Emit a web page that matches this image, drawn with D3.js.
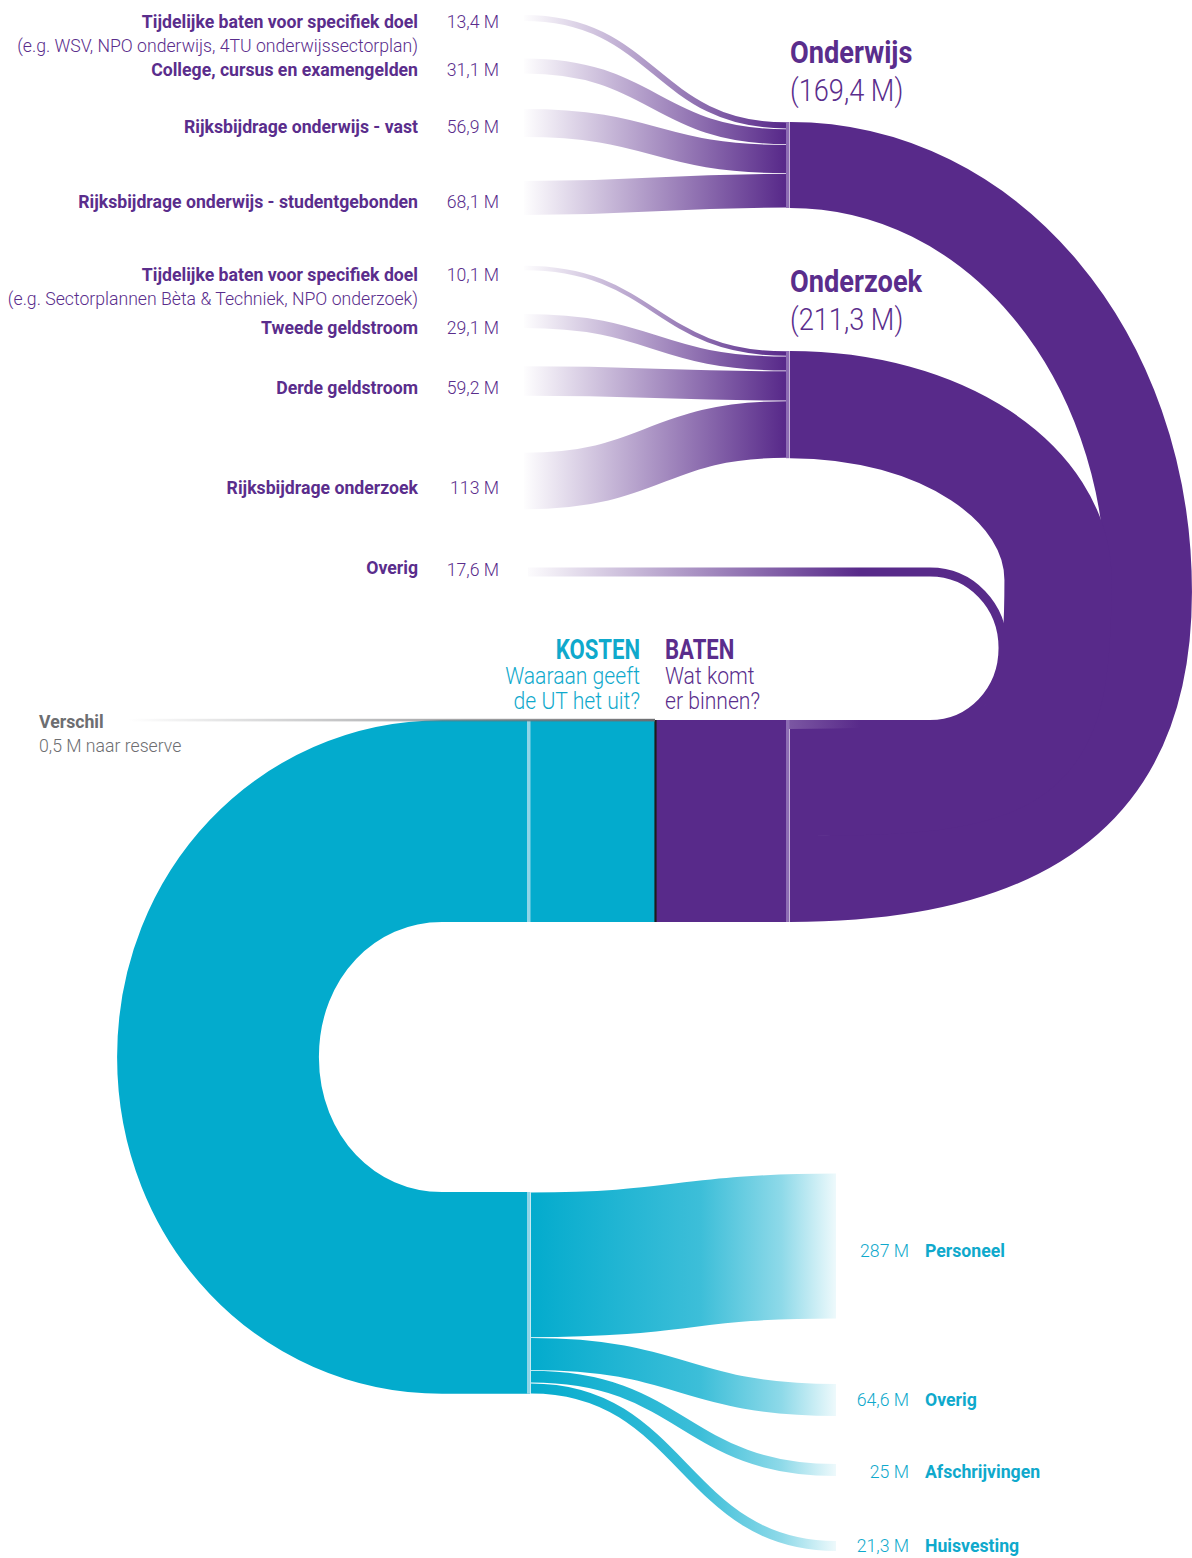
<!DOCTYPE html>
<html><head><meta charset="utf-8">
<script src="https://cdn.jsdelivr.net/npm/d3@7"></script>
<style>
html,body{margin:0;padding:0;background:#fff;}
svg{display:block;}
text{font-family:Roboto,'Liberation Sans',sans-serif;}
</style></head><body>
<svg id="chart" width="1192" height="1558"></svg>
<script>
// ---------- DATA ----------
const onderwijsLabels = ["Tijdelijke baten voor specifiek doel","College, cursus en examengelden","Rijksbijdrage onderwijs - vast","Rijksbijdrage onderwijs - studentgebonden"];
const onderwijsNotes = ["(e.g. WSV, NPO onderwijs, 4TU onderwijssectorplan)","","",""];
const onderwijsValues = [13.4, 31.1, 56.9, 68.1];
const onderzoekLabels = ["Tijdelijke baten voor specifiek doel","Tweede geldstroom","Derde geldstroom","Rijksbijdrage onderzoek"];
const onderzoekNotes = ["(e.g. Sectorplannen Bèta & Techniek, NPO onderzoek)","","",""];
const onderzoekValues = [10.1, 29.1, 59.2, 113];
const groupLabels = ["Onderwijs","Onderzoek","Overig"];
const groupValues = [169.4, 211.3, 17.6];
const kostenLabels = ["Personeel","Overig","Afschrijvingen","Huisvesting"];
const kostenValues = [287, 64.6, 25, 21.3];
const verschilLabel = "Verschil";
const verschilValue = 0.5;

// ---------- LAYOUT (positions, not data) ----------
const srcCenters = [[18,66,123,198],[268,321,381,481]];
const labelOffset = [10, 13];
const overigSrcY = 572;
const groupNodeTop = [122, 351];
const kostenTargetCenters = [1246, 1400, 1470, 1546];
const kostenLabelY = [1257, 1406, 1478, 1552];
const xSrc = 524, xNode = 786, xLoop = 790;
const xKostNode = 528, xKostOutEnd = 836;
const batenTop = 720;
const uBottomTop = 1192;

const PURPLE = "#582a8a", PURPLE_TXT = "#5a2d8c", PURPLE_LINE = "#8d6db4";
const CYAN = "#03abcd", CYAN_TXT = "#0fa9cc", CYAN_LINE = "#8fd5e7";
const GRAY = "#6d6e71";
const SX = 0.93;

const fmt = v => String(v).replace(".", ",") + " M";

const svg = d3.select("#chart");
const totalBaten = d3.sum(groupValues);
const totalKosten = d3.sum(kostenValues);
const w = d3.scaleLinear().domain([0, totalBaten]).range([0, 202]);

// gradients
const defs = svg.append("defs");
function grad(id, x1, x2, color, stops) {
  const g = defs.append("linearGradient").attr("id", id).attr("gradientUnits","userSpaceOnUse")
    .attr("x1", x1).attr("x2", x2).attr("y1", 0).attr("y2", 0);
  stops.forEach(([off, op]) => g.append("stop").attr("offset", off).attr("stop-color", color).attr("stop-opacity", op));
}
grad("gIn", 522, 784, PURPLE, [[0,0],[1,1]]);
grad("gOverig", 522, 860, PURPLE, [[0,0],[1,1]]);
grad("gOut", 531, 840, CYAN, [[0,1],[0.55,0.77],[0.81,0.45],[1,0.04]]);
grad("gVer", 128, 655, GRAY, [[0,0],[1,1]]);

function ctext(x, y, str, o) {
  return svg.append("text")
    .attr("transform", `translate(${x},${y}) scale(${o.sx || SX},1)`)
    .attr("text-anchor", o.anchor || "start")
    .attr("font-size", o.size).attr("font-weight", o.weight)
    .attr("fill", o.fill).text(str);
}

function loopRight(p, x0, y0, x1, y1, xr, ym, kT, kB) {
  p.bezierCurveTo(x0 + kT*(xr-x0), y0, xr, ym - kT*(ym-y0), xr, ym);
  p.bezierCurveTo(xr, ym + kB*(y1-ym), x1 + kB*(xr-x1), y1, x1, y1);
}

const link = d3.linkHorizontal();

// ---------- BIG LOOPS (baten) ----------
const slotOverig = batenTop;
const slotOnderzoek = batenTop + w(groupValues[2]);
const slotOnderwijs = slotOnderzoek + w(groupValues[1]);
const loops = [
  {v: groupValues[0], ys: groupNodeTop[0] + w(groupValues[0])/2, ye: slotOnderwijs + w(groupValues[0])/2, xr: 1149, ym: 592, kT: 0.56, kB: 0.68},
  {v: groupValues[1], ys: groupNodeTop[1] + w(groupValues[1])/2, ye: slotOnderzoek + w(groupValues[1])/2, xr: 1058, ym: 580, kT: 0.56, kB: 0.9}
];
loops.forEach(d => {
  const p = d3.path();
  p.moveTo(xLoop, d.ys);
  loopRight(p, xLoop, d.ys, xLoop, d.ye, d.xr, d.ym, d.kT, d.kB);
  svg.append("path").attr("d", p.toString()).attr("fill","none")
    .attr("stroke", PURPLE).attr("stroke-width", w(d.v));
});
// Overig loop
{
  const wv = w(groupValues[2]);
  const ye = slotOverig + wv/2;
  const p = d3.path();
  p.moveTo(xSrc + 4, overigSrcY);
  p.lineTo(930, overigSrcY);
  loopRight(p, 930, overigSrcY, 930, ye, 1003, 648, 0.56, 0.56);
  p.lineTo(xLoop - 2, ye);
  svg.append("path").attr("d", p.toString()).attr("fill","none")
    .attr("stroke", "url(#gOverig)").attr("stroke-width", wv);
}

// ---------- INCOMING LINKS ----------
[[onderwijsValues, onderwijsLabels, onderwijsNotes],[onderzoekValues, onderzoekLabels, onderzoekNotes]].forEach(([vals, labs, notes], g) => {
  let cum = groupNodeTop[g];
  vals.forEach((v, i) => {
    const tc = cum + w(v)/2;
    cum += w(v);
    const sc = srcCenters[g][i];
    svg.append("path")
      .attr("d", link({source:[xSrc, sc], target:[xNode, tc]}))
      .attr("fill","none").attr("stroke","url(#gIn)").attr("stroke-width", Math.max(1, w(v) - 0.7));
    const ly = sc + labelOffset[g];
    ctext(418, ly, labs[i], {anchor:"end", size:19, weight:700, fill:PURPLE_TXT});
    ctext(499, ly, fmt(v), {anchor:"end", size:19, weight:300, fill:PURPLE_TXT});
    if (notes[i]) ctext(418, ly + 24, notes[i], {anchor:"end", size:19, weight:300, fill:PURPLE_TXT});
  });
  // node bar
  svg.append("rect").attr("x", xNode).attr("y", groupNodeTop[g]).attr("width", 3.5)
    .attr("height", w(d3.sum(vals))).attr("fill", PURPLE_LINE);
  const titleY = groupNodeTop[g] - 59;
  ctext(xLoop, titleY, groupLabels[g], {size:32, weight:700, fill:PURPLE_TXT, sx:0.85});
  ctext(xLoop, titleY + 38, "(" + fmt(groupValues[g]) + ")", {size:32, weight:300, fill:PURPLE_TXT, sx:0.85});
});
ctext(418, overigSrcY + 2, groupLabels[2], {anchor:"end", size:19, weight:700, fill:PURPLE_TXT});
ctext(499, overigSrcY + 4, fmt(groupValues[2]), {anchor:"end", size:19, weight:300, fill:PURPLE_TXT});

// ---------- BATEN BLOCK ----------
svg.append("rect").attr("x", 656).attr("y", batenTop).attr("width", xNode - 656)
  .attr("height", w(totalBaten)).attr("fill", PURPLE);
svg.append("rect").attr("x", xNode).attr("y", batenTop).attr("width", 3.5)
  .attr("height", w(totalBaten)).attr("fill", PURPLE_LINE);

// ---------- KOSTEN ----------
const kBottom = batenTop + w(totalBaten);
const hK = w(totalKosten);
const kTop = kBottom - hK;
// U shape
{
  const y0 = kTop + hK/2, y1 = uBottomTop + hK/2;
  const xs = 442, xl = 218, ym = (y0 + y1)/2, k = 0.56;
  const p = d3.path();
  p.moveTo(xKostNode + 2, y0);
  p.lineTo(xs, y0);
  p.bezierCurveTo(xs - k*(xs-xl), y0, xl, ym - k*(ym-y0), xl, ym);
  p.bezierCurveTo(xl, ym + k*(y1-ym), xs - k*(xs-xl), y1, xs, y1);
  p.lineTo(xKostNode + 2, y1);
  svg.append("path").attr("d", p.toString()).attr("fill","none")
    .attr("stroke", CYAN).attr("stroke-width", hK);
}
svg.append("rect").attr("x", xKostNode).attr("y", kTop).attr("width", 655 - xKostNode)
  .attr("height", hK).attr("fill", CYAN);
// outgoing
{
  let cum = uBottomTop;
  kostenValues.forEach((v, i) => {
    const sc = cum + w(v)/2;
    cum += w(v);
    svg.append("path")
      .attr("d", link({source:[xKostNode + 3, sc], target:[xKostOutEnd, kostenTargetCenters[i]]}))
      .attr("fill","none").attr("stroke","url(#gOut)").attr("stroke-width", Math.max(1, w(v) - 0.8));
    ctext(909, kostenLabelY[i], fmt(v), {anchor:"end", size:19, weight:300, fill:CYAN_TXT});
    ctext(925, kostenLabelY[i], kostenLabels[i], {size:19, weight:700, fill:CYAN_TXT});
  });
}
// kosten node lines
svg.append("rect").attr("x", xKostNode - 1).attr("y", kTop).attr("width", 3.5).attr("height", hK).attr("fill", CYAN_LINE);
svg.append("rect").attr("x", xKostNode - 1).attr("y", uBottomTop).attr("width", 3.5).attr("height", hK).attr("fill", CYAN_LINE);

// divider and verschil line
svg.append("line").attr("x1", 655.5).attr("x2", 655.5).attr("y1", batenTop).attr("y2", kBottom)
  .attr("stroke", "#1d1d1b").attr("stroke-width", 2.2);
svg.append("rect").attr("x", 128).attr("y", batenTop - 1.2).attr("width", 655 - 128)
  .attr("height", 2.6).attr("fill", "url(#gVer)");
ctext(39, batenTop + 8, verschilLabel, {size:19, weight:700, fill:GRAY});
ctext(39, batenTop + 32, fmt(verschilValue) + " naar reserve", {size:19, weight:300, fill:GRAY});

// headers
ctext(640, 659, "KOSTEN", {anchor:"end", size:28, weight:700, fill:CYAN_TXT, sx:0.79});
ctext(640, 684, "Waaraan geeft", {anchor:"end", size:23, weight:300, fill:CYAN_TXT, sx:0.92});
ctext(640, 709, "de UT het uit?", {anchor:"end", size:23, weight:300, fill:CYAN_TXT, sx:0.92});
ctext(665, 659, "BATEN", {size:28, weight:700, fill:PURPLE_TXT, sx:0.79});
ctext(665, 684, "Wat komt", {size:23, weight:300, fill:PURPLE_TXT, sx:0.92});
ctext(665, 709, "er binnen?", {size:23, weight:300, fill:PURPLE_TXT, sx:0.92});
</script>
</body></html>
